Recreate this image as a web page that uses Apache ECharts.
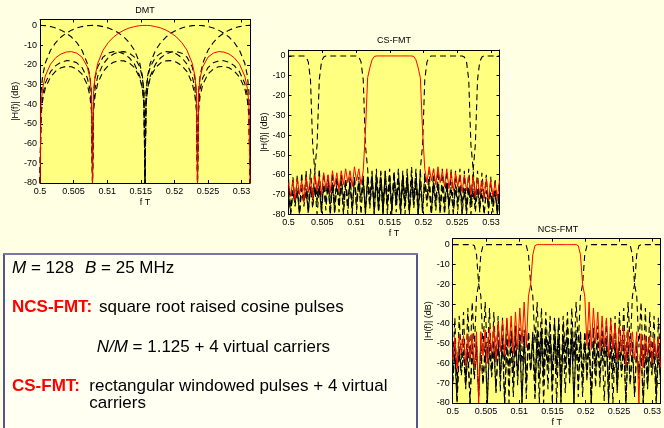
<!DOCTYPE html>
<html><head><meta charset="utf-8">
<script src="https://cdn.jsdelivr.net/npm/echarts/dist/echarts.min.js"></script>
<style>html,body{margin:0;padding:0;background:#FFFFE3;}#c{width:664px;height:428px;}</style>
</head><body><div id="c"></div>
<script>
// ---------- DATA ----------
const fDMT = [0.5,0.500156,0.500391,0.500781,0.501563,0.502344,0.503125,0.503906,0.504688,0.505469,0.50625,0.507031,0.507422,0.507656,0.507813,
0.507969,0.508203,0.508594,0.509375,0.510156,0.510938,0.511719,0.5125,0.513281,0.514063,0.514844,0.515234,0.515469,0.515625,
0.515781,0.516016,0.516406,0.517188,0.517969,0.51875,0.519531,0.520313,0.521094,0.521875,0.522656,0.523047,0.523281,0.523438,
0.523594,0.523828,0.524219,0.525,0.525781,0.526563,0.527344,0.528125,0.528906,0.529688,0.530469,0.530859,0.531094,0.53125];
const dmtRed = [-80,-39.9,-31.9,-25.7,-19.7,-16.4,-14.5,-13.5,-13.3,-14.1,-16.1,-21.0,-26.5,-34.2,-80,
-33.8,-25.6,-19.2,-12.6,-8.7,-5.9,-3.9,-2.4,-1.3,-0.6,-0.1,-0.04,0,0,
0,-0.04,-0.1,-0.6,-1.3,-2.4,-3.9,-5.9,-8.7,-12.6,-19.2,-25.6,-33.8,-80,
-34.2,-26.5,-21.0,-16.1,-14.1,-13.3,-13.5,-14.5,-16.4,-19.7,-25.7,-31.9,-39.9,-80];
const dmtD0 = [0,0,-0.04,-0.1,-0.6,-1.3,-2.4,-3.9,-5.9,-8.7,-12.6,-19.2,-25.6,-33.8,-80,
-34.2,-26.5,-21.0,-16.1,-14.1,-13.3,-13.5,-14.5,-16.4,-19.7,-25.7,-31.9,-39.9,-80,
-40.1,-32.3,-26.6,-21.4,-19.0,-18.0,-17.9,-18.7,-20.4,-23.5,-29.4,-35.5,-43.5,-80,
-43.6,-35.7,-30.0,-24.7,-22.2,-21.0,-20.8,-21.5,-23.2,-26.2,-32.0,-38.0,-46.0,-80];
const dmtD1 = [-80,-33.8,-25.6,-19.2,-12.6,-8.7,-5.9,-3.9,-2.4,-1.3,-0.6,-0.1,-0.04,0,0,
0,-0.04,-0.1,-0.6,-1.3,-2.4,-3.9,-5.9,-8.7,-12.6,-19.2,-25.6,-33.8,-80,
-34.2,-26.5,-21.0,-16.1,-14.1,-13.3,-13.5,-14.5,-16.4,-19.7,-25.7,-31.9,-39.9,-80,
-40.1,-32.3,-26.6,-21.4,-19.0,-18.0,-17.9,-18.7,-20.4,-23.5,-29.4,-35.5,-43.5,-80];
const dmtD3 = [-80,-43.5,-35.5,-29.4,-23.5,-20.4,-18.7,-17.9,-18.0,-19.0,-21.4,-26.6,-32.3,-40.1,-80,
-39.9,-31.9,-25.7,-19.7,-16.4,-14.5,-13.5,-13.3,-14.1,-16.1,-21.0,-26.5,-34.2,-80,
-33.8,-25.6,-19.2,-12.6,-8.7,-5.9,-3.9,-2.4,-1.3,-0.6,-0.1,-0.04,0,0,
0,-0.04,-0.1,-0.6,-1.3,-2.4,-3.9,-5.9,-8.7,-12.6,-19.2,-25.6,-33.8,-80];
const dmtD4 = [-80,-46.0,-38.0,-32.0,-26.2,-23.2,-21.5,-20.8,-21.0,-22.2,-24.7,-30.0,-35.7,-43.6,-80,
-43.5,-35.5,-29.4,-23.5,-20.4,-18.7,-17.9,-18.0,-19.0,-21.4,-26.6,-32.3,-40.1,-80,
-39.9,-31.9,-25.7,-19.7,-16.4,-14.5,-13.5,-13.3,-14.1,-16.1,-21.0,-26.5,-34.2,-80,
-33.8,-25.6,-19.2,-12.6,-8.7,-5.9,-3.9,-2.4,-1.3,-0.6,-0.1,-0.04,0,0];

const fGrid = [0.5,0.500326,0.500651,0.500977,0.501302,0.501628,0.501953,0.502279,0.502604,0.50293,
0.503255,0.503581,0.503906,0.504232,0.504557,0.504883,0.505208,0.505534,0.505859,0.506185,
0.50651,0.506836,0.507161,0.507487,0.507813,0.508138,0.508464,0.508789,0.509115,0.50944,
0.509766,0.510091,0.510417,0.510742,0.511068,0.511393,0.511719,0.512044,0.51237,0.512695,
0.513021,0.513346,0.513672,0.513997,0.514323,0.514648,0.514974,0.515299,0.515625,0.515951,
0.516276,0.516602,0.516927,0.517253,0.517578,0.517904,0.518229,0.518555,0.51888,0.519206,
0.519531,0.519857,0.520182,0.520508,0.520833,0.521159,0.521484,0.52181,0.522135,0.522461,
0.522786,0.523112,0.523438,0.523763,0.524089,0.524414,0.52474,0.525065,0.525391,0.525716,
0.526042,0.526367,0.526693,0.527018,0.527344,0.527669,0.527995,0.52832,0.528646,0.528971,
0.529297,0.529622,0.529948,0.530273,0.530599,0.530924,0.53125];

const csRed = [-64,-71,-63,-73,-62,-70,-63,-74,-61,-69,-62,-72,-60,-68,-61,-70,-59,-67,-60,-69,
-58,-66,-59,-68,-58,-65,-57,-64,-58,-66,-56,-63,-57,-65,-58,-38,-11,-6,-2,-0.3,
0,0,0,0,0,0,0,0,0,0,0,0,0,0,0,0,0,-0.3,-2,-6,
-11,-38,-57,-64,-56,-63,-57,-65,-56,-64,-58,-66,-57,-67,-59,-68,-59,-66,-60,-69,
-60,-68,-61,-70,-61,-71,-62,-70,-63,-72,-62,-73,-63,-71,-64,-72,-63];
const csD0 = [0,0,0,0,0,0,0,0,-0.5,-3,-12,-45,
-58,-74,-57,-78,-59,-72,-60,-80,-59,-75,-61,-79,-60,-73,-62,-80,-61,-76,-62,-78,
-63,-74,-62,-80,-64,-77,-63,-72,-65,-79,-64,-80,-63,-75,-65,-78,-64,-73,-66,-80,
-65,-76,-64,-79,-66,-74,-65,-80,-66,-77,-65,-72,-67,-80,-66,-78,-65,-75,-67,-80,
-66,-76,-68,-79,-67,-74,-66,-80,-68,-77,-67,-80,-68,-75,-67,-78,-69,-80,-68,-74,
-69,-79,-68,-80,-69];
const csD1 = [-62,-79,-61,-75,-60,-80,-59,-74,-58,-78,-57,-72,-57,-45,-12,-3,-0.5,
0,0,0,0,0,0,0,0,0,0,0,0,0,0,0,-0.5,-3,-12,-45,
-57,-73,-58,-80,-57,-76,-59,-79,-58,-72,-60,-80,-59,-75,-61,-78,-60,-73,-62,-80,
-61,-77,-62,-74,-63,-80,-62,-76,-64,-79,-63,-73,-64,-80,-65,-77,-64,-75,-66,-80,
-65,-78,-66,-74,-67,-80,-66,-76,-67,-79,-68,-73,-67,-80,-68,-77,-69,-75,-68,-80,-69];
const csD3 = [-69,-80,-68,-76,-68,-79,-67,-74,-67,-80,-66,-77,-66,-73,-65,-80,-65,-78,-64,-75,
-64,-80,-63,-76,-63,-79,-62,-74,-62,-80,-61,-77,-61,-72,-60,-80,-60,-75,-59,-78,
-59,-73,-58,-80,-58,-76,-57,-79,-58,-72,-57,-80,-58,-75,-57,-78,-56,-73,-57,-80,-57,
-45,-12,-3,-0.5,0,0,0,0,0,0,0,0,0,0,0,0,0,0,0,-0.5,-3,-12,-45,
-57,-74,-58,-79,-59,-72,-60,-80,-61,-76,-62,-78,-62];
const csD4 = [-68,-79,-69,-74,-68,-80,-67,-76,-68,-78,-67,-73,-66,-80,-67,-77,-66,-75,-65,-80,
-66,-78,-65,-74,-64,-80,-65,-76,-64,-79,-63,-72,-64,-80,-63,-77,-62,-75,-63,-80,
-62,-78,-61,-73,-62,-80,-61,-76,-60,-79,-61,-74,-60,-80,-59,-77,-60,-75,-59,-80,
-58,-78,-59,-73,-58,-80,-57,-76,-58,-79,-57,-74,-58,-80,-57,-77,-58,-75,-57,-80,
-58,-78,-57,-74,-58,-45,-12,-3,-0.5,0,0,0,0,0,0,0,0];

const ncsRed = [-58,-47,-63,-46,-55,-46,-61,-45,-57,-45,-62,-44,-80,-44,-56,-43,-60,-42,-55,-41,
-58,-39,-54,-38,-56,-37,-52,-36,-55,-34,-53,-32,-50,-29,-52,-26,-20,-5,-0.5,
0,0,0,0,0,0,0,0,0,0,0,0,0,0,0,0,0,0,0,-0.5,-5,-20,-26,
-51,-29,-53,-32,-50,-34,-54,-36,-52,-37,-57,-38,-53,-40,-58,-41,-55,-42,-61,-43,
-56,-44,-58,-44,-80,-45,-62,-46,-56,-46,-60,-47,-57,-47,-62];
const ncsD0 = [0,0,0,0,0,0,0,0,0,0,-0.5,-5,-20,-26,
-52,-29,-57,-32,-66,-34,-60,-36,-74,-37,-62,-38,-80,-40,-64,-41,-71,-42,-60,-43,
-78,-44,-63,-44,-69,-45,-80,-45,-66,-46,-73,-46,-62,-47,-80,-47,-68,-48,-75,-48,
-64,-48,-80,-49,-70,-49,-77,-49,-66,-50,-80,-50,-72,-50,-65,-51,-79,-51,-69,-51,
-80,-52,-74,-52,-67,-52,-80,-53,-71,-53,-76,-53,-68,-54,-80,-54,-73,-54,-66,-55,
-80,-55,-70];
const ncsD1 = [-62,-37,-75,-36,-58,-34,-68,-32,-60,-29,-52,-26,-20,-5,-0.5,
0,0,0,0,0,0,0,0,0,0,0,0,0,0,0,0,0,0,0,-0.5,-5,-20,-26,
-50,-29,-58,-32,-64,-34,-55,-36,-72,-37,-61,-38,-80,-40,-63,-41,-70,-42,-59,-43,
-77,-44,-64,-44,-69,-45,-80,-45,-66,-46,-72,-46,-62,-47,-80,-47,-68,-48,-75,-48,
-64,-48,-80,-49,-70,-49,-77,-49,-66,-50,-80,-50,-72,-50,-65,-51,-79,-51,-69];
const ncsD3 = [-69,-51,-79,-51,-65,-50,-72,-50,-80,-50,-66,-49,-77,-49,-70,-49,-80,-48,-64,-48,
-75,-48,-68,-47,-80,-47,-62,-46,-72,-46,-66,-45,-80,-45,-69,-44,-64,-44,-77,-43,
-59,-42,-70,-41,-63,-40,-80,-38,-61,-37,-72,-36,-55,-34,-64,-32,-58,-29,-50,
-26,-20,-5,-0.5,0,0,0,0,0,0,0,0,0,0,0,0,0,0,0,0,0,0,0,-0.5,-5,-20,-26,
-52,-29,-62,-32,-68,-34,-58,-36,-75,-37,-60];
const ncsD4 = [-70,-55,-80,-55,-66,-54,-73,-54,-80,-54,-68,-53,-76,-53,-71,-53,-80,-52,-67,-52,
-74,-52,-65,-51,-80,-51,-69,-51,-77,-50,-66,-50,-80,-50,-70,-49,-64,-49,-78,-49,
-68,-48,-80,-48,-62,-48,-73,-47,-66,-47,-80,-46,-63,-46,-69,-45,-80,-45,-60,-44,
-71,-44,-64,-43,-78,-42,-60,-41,-68,-40,-57,-38,-80,-37,-62,-36,-70,-34,-56,-32,
-64,-29,-52,-26,-20,-5,-0.5,0,0,0,0,0,0,0,0,0,0];

const panelTitles = ['DMT', 'CS-FMT', 'NCS-FMT'];
const xRange = [0.5, 0.53125];
const yRange = [-80, 3];

// ---------- CHART ----------
const FONT = '"Liberation Sans", Arial, Helvetica, sans-serif';
const boxes = [
  {left: 40, top: 19.5, width: 210, height: 163.5, gap: 19},
  {left: 288.5, top: 50, width: 211, height: 164.3, gap: 18},
  {left: 452.7, top: 238.7, width: 210.5, height: 164.6, gap: 18}
];
const sets = [
  {f: fDMT, red: dmtRed, dashed: [dmtD0, dmtD1, dmtD3, dmtD4]},
  {f: fGrid, red: csRed, dashed: [csD0, csD1, csD3, csD4]},
  {f: fGrid, red: ncsRed, dashed: [ncsD0, ncsD1, ncsD3, ncsD4]}
];
const zip = (f, v) => f.map((x, i) => [x, v[i]]);

const grid = [], xAxis = [], yAxis = [], series = [], graphic = [];
boxes.forEach((b, k) => {
  grid.push({show: true, backgroundColor: '#FFFF80', borderWidth: 0,
    left: b.left, top: b.top, width: b.width, height: b.height});
  const axLine = {show: true, onZero: false, lineStyle: {color: '#000', width: 1}};
  const tick = {show: true, inside: true, length: 3, lineStyle: {color: '#000', width: 1}};
  const lab = {color: '#000', fontSize: 9, fontFamily: FONT};
  xAxis.push({type: 'value', gridIndex: k, min: xRange[0], max: xRange[1], interval: 0.005,
    axisLine: axLine, axisTick: tick, splitLine: {show: false},
    axisLabel: Object.assign({margin: 4, showMaxLabel: false}, lab),
    name: 'f T', nameLocation: 'middle', nameGap: 15, nameTextStyle: lab});
  xAxis.push({type: 'value', gridIndex: k, position: 'top', min: xRange[0], max: xRange[1], interval: 0.005,
    axisLine: axLine, axisTick: tick, splitLine: {show: false}, axisLabel: {show: false}});
  yAxis.push({type: 'value', gridIndex: k, min: yRange[0], max: yRange[1], interval: 10,
    axisLine: axLine, axisTick: tick, splitLine: {show: false},
    axisLabel: Object.assign({margin: 3, showMaxLabel: false}, lab),
    name: '|H(f)| (dB)', nameLocation: 'middle', nameGap: b.gap, nameTextStyle: lab});
  yAxis.push({type: 'value', gridIndex: k, position: 'right', min: yRange[0], max: yRange[1], interval: 10,
    axisLine: axLine, axisTick: tick, splitLine: {show: false}, axisLabel: {show: false}});
  const s = sets[k];
  s.dashed.forEach(d => series.push({type: 'line', xAxisIndex: 2 * k, yAxisIndex: 2 * k,
    data: zip(s.f, d), showSymbol: false, clip: true, silent: true,
    lineStyle: {color: '#000', width: 1.1, type: [6, 4]}}));
  series.push({type: 'line', xAxisIndex: 2 * k, yAxisIndex: 2 * k,
    data: zip(s.f, s.red), showSymbol: false, clip: true, silent: true,
    lineStyle: {color: '#FF0000', width: 1}});
  graphic.push({type: 'text', x: b.left + b.width / 2, y: b.top - 9,
    style: {text: panelTitles[k], fill: '#000', fontSize: 9, fontFamily: FONT, align: 'center', verticalAlign: 'middle'}});
});

// text box
const TS = 17;
const rich = {i: {fontStyle: 'italic', fontSize: TS, fontFamily: FONT, fill: '#000'}};
graphic.push({type: 'rect', shape: {x: 4, y: 254, width: 413, height: 200},
  style: {fill: '#FFFFF2', stroke: '#1E1E78', lineWidth: 1.5}});
graphic.push({type: 'line', shape: {x1: 4, y1: 254, x2: 417, y2: 254}, style: {stroke: '#7878A8', lineWidth: 2}});
function txt(x, y, text, extra) {
  graphic.push({type: 'text', x: x, y: y, style: Object.assign({text: text, fill: '#000', fontSize: TS,
    fontFamily: FONT, verticalAlign: 'middle', align: 'left', rich: rich}, extra || {})});
}
txt(12, 268, '{i|M} = 128');
txt(85, 268, '{i|B} = 25 MHz');
txt(12, 307, 'NCS-FMT:', {fill: '#FF0000', fontWeight: 'bold'});
txt(99, 307, 'square root raised cosine pulses');
txt(96.7, 347, '{i|N/M} = 1.125 + 4 virtual carriers');
txt(12, 386, 'CS-FMT:', {fill: '#FF0000', fontWeight: 'bold'});
txt(89.3, 386, 'rectangular windowed pulses + 4 virtual');
txt(89.3, 403, 'carriers');

const chart = echarts.init(document.getElementById('c'), null, {renderer: 'canvas'});
chart.setOption({
  backgroundColor: '#FFFFE3',
  animation: false,
  grid, xAxis, yAxis, series, graphic
});
</script></body></html>
